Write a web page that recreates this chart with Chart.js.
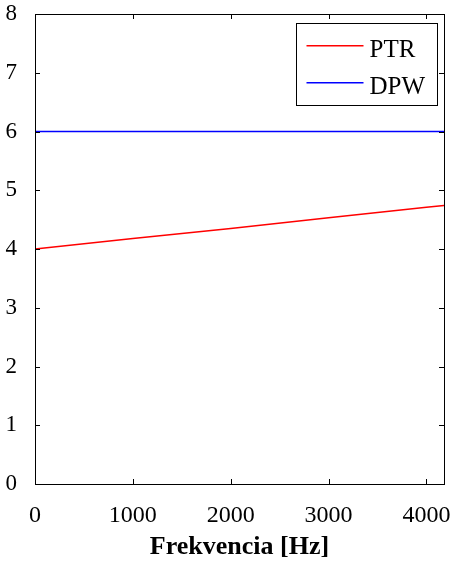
<!DOCTYPE html>
<html>
<head>
<meta charset="utf-8">
<script src="https://cdn.jsdelivr.net/npm/chart.js@4.4.1/dist/chart.umd.min.js"></script>
<style>
  html, body { margin: 0; padding: 0; background: #fff; }
  #wrap { width: 453px; height: 565px; }
</style>
</head>
<body>
<div id="wrap"><canvas id="c" width="453" height="565"></canvas></div>
<script>
// Frequency samples [Hz]
const freq = [0, 1000, 2000, 3000, 4000, 4180];
// Series values
const ptr = [4.0, 4.18, 4.35, 4.53, 4.71, 4.74];
const dpw = [6, 6, 6, 6, 6, 6];
const seriesNames = ['PTR', 'DPW'];
const seriesColors = ['#ff0000', '#0000ff'];
// Axis ticks
const xTicks = [0, 1000, 2000, 3000, 4000];
const yTicks = [0, 1, 2, 3, 4, 5, 6, 7, 8];
const xTitle = 'Frekvencia [Hz]';
const xMax = 4180;
const yMax = 8;

const FONT = '"Liberation Serif", serif';

function pts(xs, ys) { return xs.map((x, i) => ({ x: x, y: ys[i] })); }

// Frame box with inward ticks on all four sides
const framePlugin = {
  id: 'frame',
  afterDraw(chart) {
    const { ctx, chartArea: a, scales } = chart;
    const tl = 5;
    ctx.save();
    ctx.strokeStyle = '#000';
    ctx.lineWidth = 1;
    ctx.beginPath();
    scales.x.ticks.forEach(t => {
      const px = Math.round(scales.x.getPixelForValue(t.value)) + 0.5;
      ctx.moveTo(px, a.bottom); ctx.lineTo(px, a.bottom - tl);
      ctx.moveTo(px, a.top); ctx.lineTo(px, a.top + tl);
    });
    scales.y.ticks.forEach(t => {
      const py = Math.round(scales.y.getPixelForValue(t.value)) + 0.5;
      ctx.moveTo(a.left, py); ctx.lineTo(a.left + tl, py);
      ctx.moveTo(a.right, py); ctx.lineTo(a.right - tl, py);
    });
    ctx.stroke();
    ctx.strokeRect(Math.round(a.left) + 0.5, Math.round(a.top) + 0.5,
                   Math.round(a.right - a.left), Math.round(a.bottom - a.top));
    ctx.restore();
  }
};

// Boxed legend in the upper right corner of the plot area
const boxLegend = {
  id: 'boxLegend',
  afterDraw(chart) {
    const { ctx, chartArea: a } = chart;
    const w = 141, h = 82;
    const x0 = Math.round(a.right - 7 - w) + 0.5;
    const y0 = Math.round(a.top + 9) + 0.5;
    ctx.save();
    ctx.fillStyle = '#fff';
    ctx.fillRect(x0, y0, w, h);
    ctx.strokeStyle = '#000';
    ctx.lineWidth = 1;
    ctx.strokeRect(x0, y0, w, h);
    ctx.font = '25px ' + FONT;
    ctx.textBaseline = 'alphabetic';
    seriesNames.forEach((name, i) => {
      const yy = Math.round(y0 + 21 + i * 37);
      ctx.fillStyle = seriesColors[i];
      ctx.fillRect(x0 + 10, yy, 57, 1.5);
      ctx.fillStyle = '#000';
      ctx.fillText(name, x0 + 73, yy + 12);
    });
    ctx.restore();
  }
};

new Chart(document.getElementById('c'), {
  type: 'line',
  data: {
    datasets: [
      { label: seriesNames[0], data: pts(freq, ptr), borderColor: seriesColors[0], borderWidth: 1.5, pointRadius: 0, tension: 0 },
      { label: seriesNames[1], data: pts(freq, dpw), borderColor: seriesColors[1], borderWidth: 1.5, pointRadius: 0, tension: 0 }
    ]
  },
  options: {
    responsive: false,
    animation: false,
    layout: { padding: { left: 0, right: 9, top: 14, bottom: 0 } },
    plugins: { legend: { display: false }, tooltip: { enabled: false } },
    scales: {
      x: {
        type: 'linear', min: 0, max: xMax,
        grid: { display: false }, border: { display: false },
        afterBuildTicks(s) { s.ticks = xTicks.map(v => ({ value: v })); },
        ticks: { maxRotation: 0, autoSkip: false, color: '#000', padding: 9,
                 callback: v => String(v),
                 font: { family: FONT, size: 24 } },
        title: { display: true, text: xTitle, color: '#000', padding: { top: 2, bottom: 2 },
                 font: { family: FONT, size: 26, weight: '600' } },
        afterFit(s) { s.height = 81; s.paddingRight = 0; }
      },
      y: {
        type: 'linear', min: 0, max: yMax,
        grid: { display: false }, border: { display: false },
        afterBuildTicks(s) { s.ticks = yTicks.map(v => ({ value: v })); },
        ticks: { autoSkip: false, color: '#000', padding: 10,
                 callback: v => String(v),
                 font: { family: FONT, size: 23 } },
        afterFit(s) { s.width = 35; s.paddingTop = 0; }
      }
    }
  },
  plugins: [framePlugin, boxLegend]
});
</script>
</body>
</html>
